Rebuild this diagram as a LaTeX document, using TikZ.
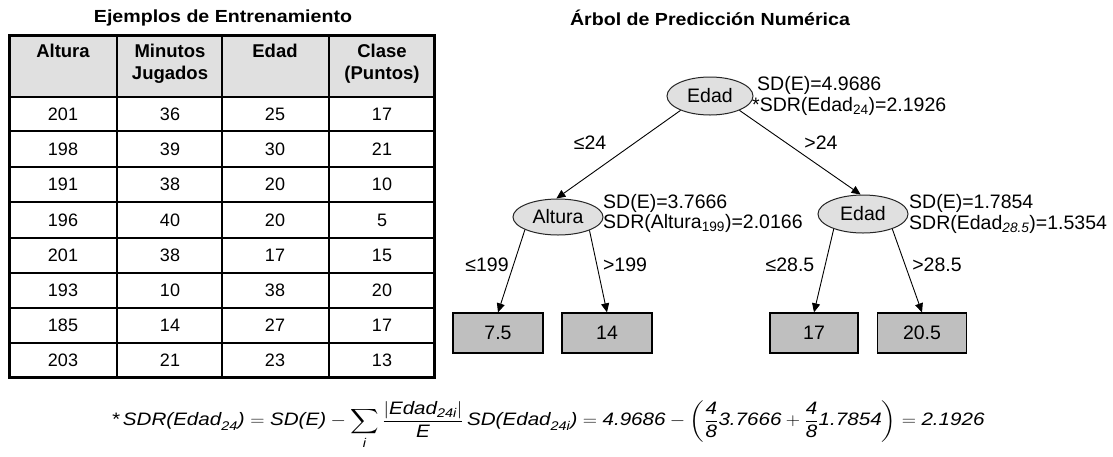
\documentclass[tikz,border=0pt]{standalone}
\usepackage{amsmath}
\usepackage{fontspec}
\setmainfont{Liberation Sans}
\usetikzlibrary{shapes.geometric,arrows.meta}
\newcommand\itx[1]{\textit{#1}}
\begin{document}
\begin{tikzpicture}[x=1pt,y=-1pt,
  txt/.style={font=\fontsize{18}{20}\selectfont, inner sep=0pt},
  hdr/.style={font=\fontsize{18.5}{22}\selectfont\bfseries, align=center, inner sep=0pt, anchor=north},
  ttl/.style={font=\fontsize{17.5}{20}\selectfont\bfseries, inner sep=0pt},
  ell/.style={ellipse, draw=black!85, line width=1pt, fill=black!12, inner sep=0pt, font=\fontsize{19.5}{22}\selectfont},
  leaf/.style={rectangle, draw=black, line width=1.3pt, fill=black!25, inner sep=0pt, minimum height=40pt, font=\fontsize{19.5}{22}\selectfont},
  edge/.style={line width=0.9pt, -{Triangle[length=9pt,width=8pt]}},
  lab/.style={font=\fontsize{19.5}{22}\selectfont, inner sep=0pt, anchor=west},
  elab/.style={font=\fontsize{19.5}{22}\selectfont, inner sep=0pt},
  grid/.style={line width=1.4pt},
  frame/.style={line width=3pt}
]
\useasboundingbox (0,0) rectangle (1113,456);
\fill[white] (0,0) rectangle (1113,456);

% titles
\node[ttl] (t1) at (223,18) {\scalebox{1.12}[1]{Ejemplos de Entrenamiento}};
\node[ttl] (t2) at (710,18) {\scalebox{1.12}[1]{Árbol de Predicción Numérica}};

% table
\fill[black!12] (9,35) rectangle (434,97);
\foreach \yy in {97,131,167,202,238,273,308,343} \draw[grid] (9,\yy) -- (434,\yy);
\foreach \xx in {117,222,329} \draw[grid] (\xx,35) -- (\xx,377);
\draw[frame] (9,35) rectangle (434,377);

\node[hdr] (h1) at (63,44) {Altura};
\node[hdr] (h2) at (170,44) {Minutos\\Jugados};
\node[hdr] (h3) at (275,44) {Edad};
\node[hdr] (h4) at (382,44) {Clase\\(Puntos)};

\foreach \r/\yc/\a/\b/\c/\d in {1/114/201/36/25/17, 2/149/198/39/30/21, 3/184.5/191/38/20/10, 4/220/196/40/20/5, 5/255.5/201/38/17/15, 6/290.5/193/10/38/20, 7/325.5/185/14/27/17, 8/360/203/21/23/13}{
  \node[txt] (c\r a) at (63,\yc) {\a};
  \node[txt] (c\r b) at (170,\yc) {\b};
  \node[txt] (c\r c) at (275,\yc) {\c};
  \node[txt] (c\r d) at (382,\yc) {\d};
}

% tree
\node[ell, minimum width=86pt, minimum height=38pt] (root) at (710,96) {Edad};
\node[ell, minimum width=90pt, minimum height=36pt] (alt) at (558,217) {Altura};
\node[ell, minimum width=90pt, minimum height=38pt] (ed2) at (863,214) {Edad};
\node[leaf, minimum width=90pt] (l1) at (498,333) {7.5};
\node[leaf, minimum width=90pt] (l2) at (607,333) {14};
\node[leaf, minimum width=88pt] (l3) at (814,333) {17};
\node[leaf, minimum width=89pt] (l4) at (922,333) {20.5};

\draw[edge] (root.206) -- (alt.95);
\draw[edge] (root.334) -- (ed2.97);
\draw[edge] (alt.201) -- (l1.north);
\draw[edge] (alt.337) -- (l2.north);
\draw[edge] (ed2.207) -- (l3.north);
\draw[edge] (ed2.333) -- (l4.north);

\node[lab] (s1) at (757,85) {SD(E)=4.9686};
\node[lab] (s2) at (752,106) {*SDR(Edad\textsubscript{24})=2.1926};
\node[lab] (s3) at (603,203) {SD(E)=3.7666};
\node[lab] (s4) at (603,223) {SDR(Altura\textsubscript{199})=2.0166};
\node[lab] (s5) at (909,203) {SD(E)=1.7854};
\node[lab] (s6) at (909,224) {SDR(Edad\textsubscript{\itshape 28.5})=1.5354};

\node[elab] (e1) at (590,143) {≤24};
\node[elab] (e2) at (821,143) {>24};
\node[elab] (e3) at (487,265) {≤199};
\node[elab] (e4) at (625,265) {>199};
\node[elab] (e5) at (790,265) {≤28.5};
\node[elab] (e6) at (937,265) {>28.5};

% formula
\node[inner sep=0pt, font=\fontsize{18}{20}\selectfont] (f) at (548,425) {\resizebox{873pt}{\height}{$\displaystyle
\itx{*\,SDR(Edad}_{\itx{24}}\itx{)} = \itx{SD(E)} - \sum_{\itx{i}}
\frac{\left|\itx{Edad}_{\itx{24i}}\right|}{\itx{E}}\,\itx{SD(Edad}_{\itx{24i}}\itx{)}
= \itx{4.9686} - \left(\frac{\itx{4}}{\itx{8}}\itx{3.7666}+\frac{\itx{4}}{\itx{8}}\itx{1.7854}\right) = \itx{2.1926}$}};
\end{tikzpicture}
\end{document}
